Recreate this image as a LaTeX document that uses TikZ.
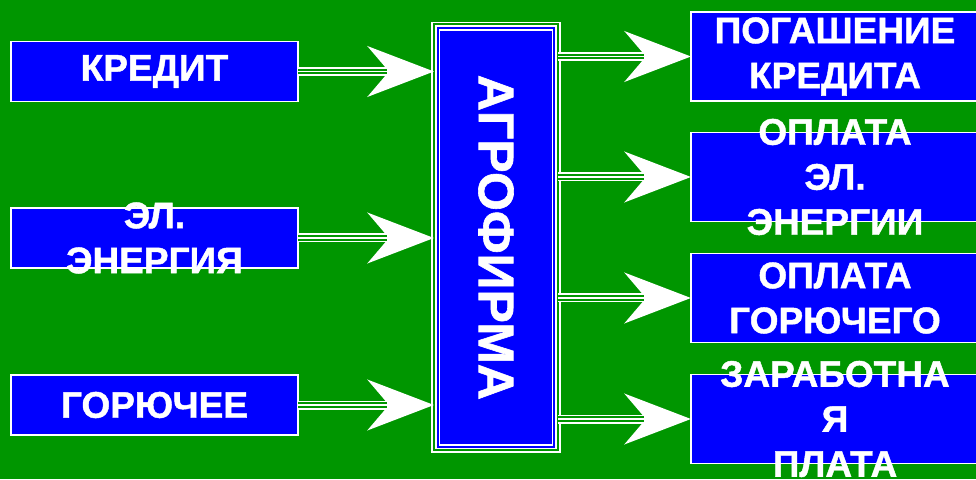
\documentclass[tikz,border=0pt]{standalone}
\usepackage{fontspec}
\setmainfont{Liberation Sans}[BoldFeatures={FakeBold=1.2}]
\usetikzlibrary{arrows.meta}
\definecolor{fieldgreen}{RGB}{0,150,0}
\definecolor{boxblue}{RGB}{0,0,255}
\tikzset{
  srcbox/.style={draw=white, fill=boxblue, line width=1.2pt, minimum width=287pt, minimum height=60pt, inner sep=0pt, outer sep=0pt},
  dstbox/.style={srcbox, minimum width=288pt, minimum height=89pt},
  txt/.style={text=white, font=\fontsize{37}{45}\selectfont\bfseries, align=center, inner sep=0pt},
  bigtxt/.style={txt, font=\fontsize{50}{60}\selectfont\bfseries},
  feed/.style={white, line width=9pt, -{Stealth[length=66pt, width=50pt, inset=21pt]},
    postaction={draw=fieldgreen, line width=5.6pt, -, shorten >=47pt},
    postaction={draw=white, line width=1.6pt, -, shorten >=47pt}}
}
\begin{document}
\begin{tikzpicture}[x=1pt, y=1pt]
  % background
  \fill[fieldgreen] (0,0) rectangle (976,479);
  \clip (0,0) rectangle (976,479);

  % inputs
  \node[srcbox] (kred) at (154.5,407.5) {};
  \node[srcbox] (elen) at (154.5,241) {};
  \node[srcbox] (fuel) at (154.5,74) {};
  \node[txt] (kred-txt) at (kred) {КРЕДИТ};
  \node[txt] (elen-txt) at (elen) {ЭЛ.\\ЭНЕРГИЯ};
  \node[txt] (fuel-txt) at (fuel) {ГОРЮЧЕЕ};

  % the farm
  \node[draw=white, double=fieldgreen, double distance=2.1pt, line width=1.7pt, fill=boxblue,
        minimum width=124pt, minimum height=426pt, inner sep=0pt, outer sep=0pt] (agro) at (496,241.6) {};
  \draw[white, line width=1.5pt] ([shift={(5.6,5.6)}]agro.south west) rectangle ([shift={(-5.6,-5.6)}]agro.north east);
  \node[bigtxt, rotate=-90] (agro-txt) at (agro) {АГРОФИРМА};

  % outputs
  \node[dstbox] (repay) at (835,422.5) {};
  \node[dstbox] (power) at (835,302) {};
  \node[dstbox] (fuelpay) at (835,181) {};
  \node[dstbox] (wages) at (835,60) {};
  \node[txt] (repay-txt) at (repay) {ПОГАШЕНИЕ\\КРЕДИТА};
  \node[txt] (power-txt) at (power) {ОПЛАТА\\ЭЛ.\\ЭНЕРГИИ};
  \node[txt] (fuelpay-txt) at (fuelpay) {ОПЛАТА\\ГОРЮЧЕГО};
  \node[txt] (wages-txt) at (wages) {ЗАРАБОТНА\\Я\\ПЛАТА};

  % flows in
  \draw[feed] (kred.east) -- (kred.east -| agro.west);
  \draw[feed] (elen.east) -- (elen.east -| agro.west);
  \draw[feed] (fuel.east) -- (fuel.east -| agro.west);

  % flows out
  \draw[feed] (agro.east |- repay.west) -- (repay.west);
  \draw[feed] (agro.east |- power.west) -- (power.west);
  \draw[feed] (agro.east |- fuelpay.west) -- (fuelpay.west);
  \draw[feed] (agro.east |- wages.west) -- (wages.west);
\end{tikzpicture}
\end{document}
